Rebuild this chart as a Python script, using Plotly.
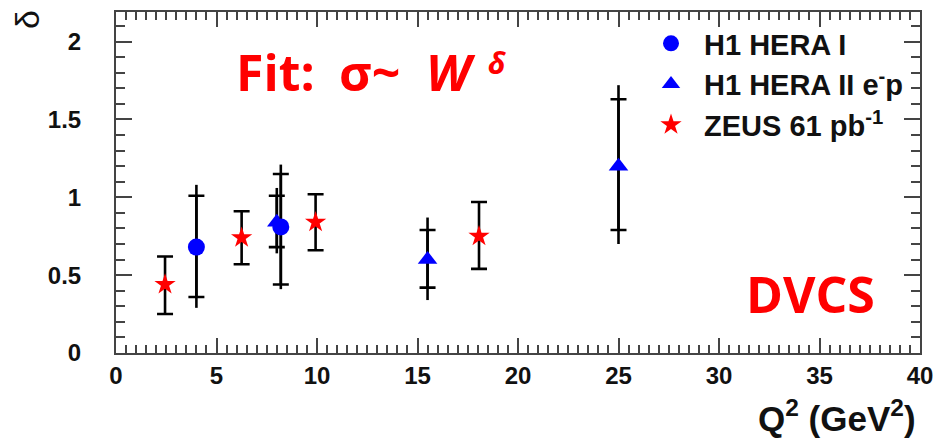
import plotly.graph_objects as go

# H1 HERA I
h1a_q2 = [4.0, 8.2]
h1a_delta = [0.68, 0.81]
h1a_stat_up = [0.33, 0.34]
h1a_stat_dn = [0.32, 0.37]
h1a_tot_up = [0.40, 0.40]
h1a_tot_dn = [0.39, 0.40]

# H1 HERA II e-p
h1b_q2 = [8.0, 15.5, 25.0]
h1b_delta = [0.84, 0.60, 1.20]
h1b_stat_up = [0.17, 0.19, 0.43]
h1b_stat_dn = [0.16, 0.18, 0.41]
h1b_tot_up = [0.22, 0.27, 0.52]
h1b_tot_dn = [0.20, 0.26, 0.50]

# ZEUS 61 pb-1
zeus_q2 = [2.44, 6.25, 9.93, 18.06]
zeus_delta = [0.44, 0.74, 0.84, 0.75]
zeus_err_up = [0.18, 0.17, 0.18, 0.22]
zeus_err_dn = [0.19, 0.17, 0.18, 0.21]

x_ticks = [0, 5, 10, 15, 20, 25, 30, 35, 40]
y_ticks = [0, 0.5, 1, 1.5, 2]

W, H = 938, 439
L, R, T, B = 116, 18, 12, 86
PW, PH = W - L - R, H - T - B


def px(x):
    return (x - L) / PW


def py(y):
    return (H - B - y) / PH


ERR = "black"
fig = go.Figure()


def total_bars(q2, d, up, dn):
    # full (total) uncertainty: plain vertical line without caps
    fig.add_trace(go.Scatter(
        x=q2, y=d, mode="markers", showlegend=False, hoverinfo="skip",
        marker=dict(size=1, opacity=0),
        error_y=dict(type="data", symmetric=False, array=up, arrayminus=dn,
                     color=ERR, thickness=2.6, width=0),
    ))


total_bars(h1a_q2, h1a_delta, h1a_tot_up, h1a_tot_dn)
total_bars(h1b_q2, h1b_delta, h1b_tot_up, h1b_tot_dn)

fig.add_trace(go.Scatter(
    x=h1b_q2, y=h1b_delta, mode="markers", name="H1 HERA II e<sup>-</sup>p",
    legendgroup="b", legendrank=2,
    marker=dict(symbol="triangle-up", size=17, color="#0000ff"),
    error_y=dict(type="data", symmetric=False, array=h1b_stat_up, arrayminus=h1b_stat_dn,
                 color=ERR, thickness=2.6, width=8),
))
fig.add_trace(go.Scatter(
    x=h1a_q2, y=h1a_delta, mode="markers", name="H1 HERA I",
    legendgroup="a", legendrank=1,
    marker=dict(symbol="circle", size=17, color="#0000ff"),
    error_y=dict(type="data", symmetric=False, array=h1a_stat_up, arrayminus=h1a_stat_dn,
                 color=ERR, thickness=2.6, width=8),
))
fig.add_trace(go.Scatter(
    x=zeus_q2, y=zeus_delta, mode="markers", name="ZEUS 61 pb<sup>-1</sup>",
    legendgroup="c", legendrank=3,
    marker=dict(symbol="star", size=16, color="#ff0000", line=dict(width=0)),
    error_y=dict(type="data", symmetric=False, array=zeus_err_up, arrayminus=zeus_err_dn,
                 color=ERR, thickness=2.6, width=8),
))

AX = "#444444"
SANS = "Liberation Sans, Arial, sans-serif"
TICKFONT = dict(family=SANS, size=24, color="#111111", weight="bold")
axis_common = dict(
    showgrid=False, zeroline=False, showline=True, linecolor=AX, linewidth=2,
    mirror="allticks", ticks="inside", tickcolor=AX, tickwidth=1.5,
    tickfont=TICKFONT,
)
fig.update_xaxes(
    range=[0, 40], tickvals=x_ticks, ticklen=15, ticklabelstandoff=0,
    minor=dict(dtick=0.5, ticks="inside", ticklen=8, tickcolor=AX, tickwidth=1.5, showgrid=False),
    **axis_common,
)
fig.update_yaxes(
    range=[0, 2.19], tickvals=y_ticks, ticklen=16, ticklabelstandoff=28,
    minor=dict(dtick=0.1, ticks="inside", ticklen=9, tickcolor=AX, tickwidth=1.5, showgrid=False),
    **axis_common,
)

RED = "#ff0000"
RFONT = "Open Sans, sans-serif"
ann = [
    dict(text="<b>Fit:</b>", x=px(234), y=py(72), xanchor="left", yanchor="middle",
         font=dict(family=RFONT, size=50, color=RED)),
    dict(text="<b>σ~</b>", x=px(337), y=py(72), xanchor="left", yanchor="middle",
         font=dict(family=RFONT, size=50, color=RED)),
    dict(text="<b><i>W</i></b>", x=px(424), y=py(72), xanchor="left", yanchor="middle",
         font=dict(family=RFONT, size=50, color=RED)),
    dict(text="<b><i>δ</i></b>", x=px(486), y=py(63), xanchor="left", yanchor="middle",
         font=dict(family=RFONT, size=30, color=RED)),
    dict(text="<b>DVCS</b>", x=px(810), y=py(294), xanchor="center", yanchor="middle",
         font=dict(family=RFONT, size=50, color=RED)),
    dict(text="<b>Q<sup>2</sup> (GeV<sup>2</sup>)</b>", x=px(918), y=py(416), xanchor="right",
         yanchor="middle", font=dict(family=SANS, size=35, color="#111111")),
    dict(text="δ", x=px(27), y=py(20), xanchor="center", yanchor="middle", textangle=-90,
         font=dict(family=SANS, size=34, color="#111111")),
]
for a in ann:
    a.update(xref="paper", yref="paper", showarrow=False)

fig.update_layout(
    width=W, height=H,
    margin=dict(l=L, r=R, t=T, b=B, autoexpand=False),
    plot_bgcolor="white", paper_bgcolor="white",
    annotations=ann,
    showlegend=True,
    legend=dict(
        x=px(638), y=py(18), xanchor="left", yanchor="top",
        bgcolor="rgba(0,0,0,0)", borderwidth=0,
        font=dict(family=SANS, size=29, color="#111111", weight="bold"),
        tracegroupgap=0, itemsizing="trace", itemwidth=56,
    ),
)

fig.write_html("out.html")
